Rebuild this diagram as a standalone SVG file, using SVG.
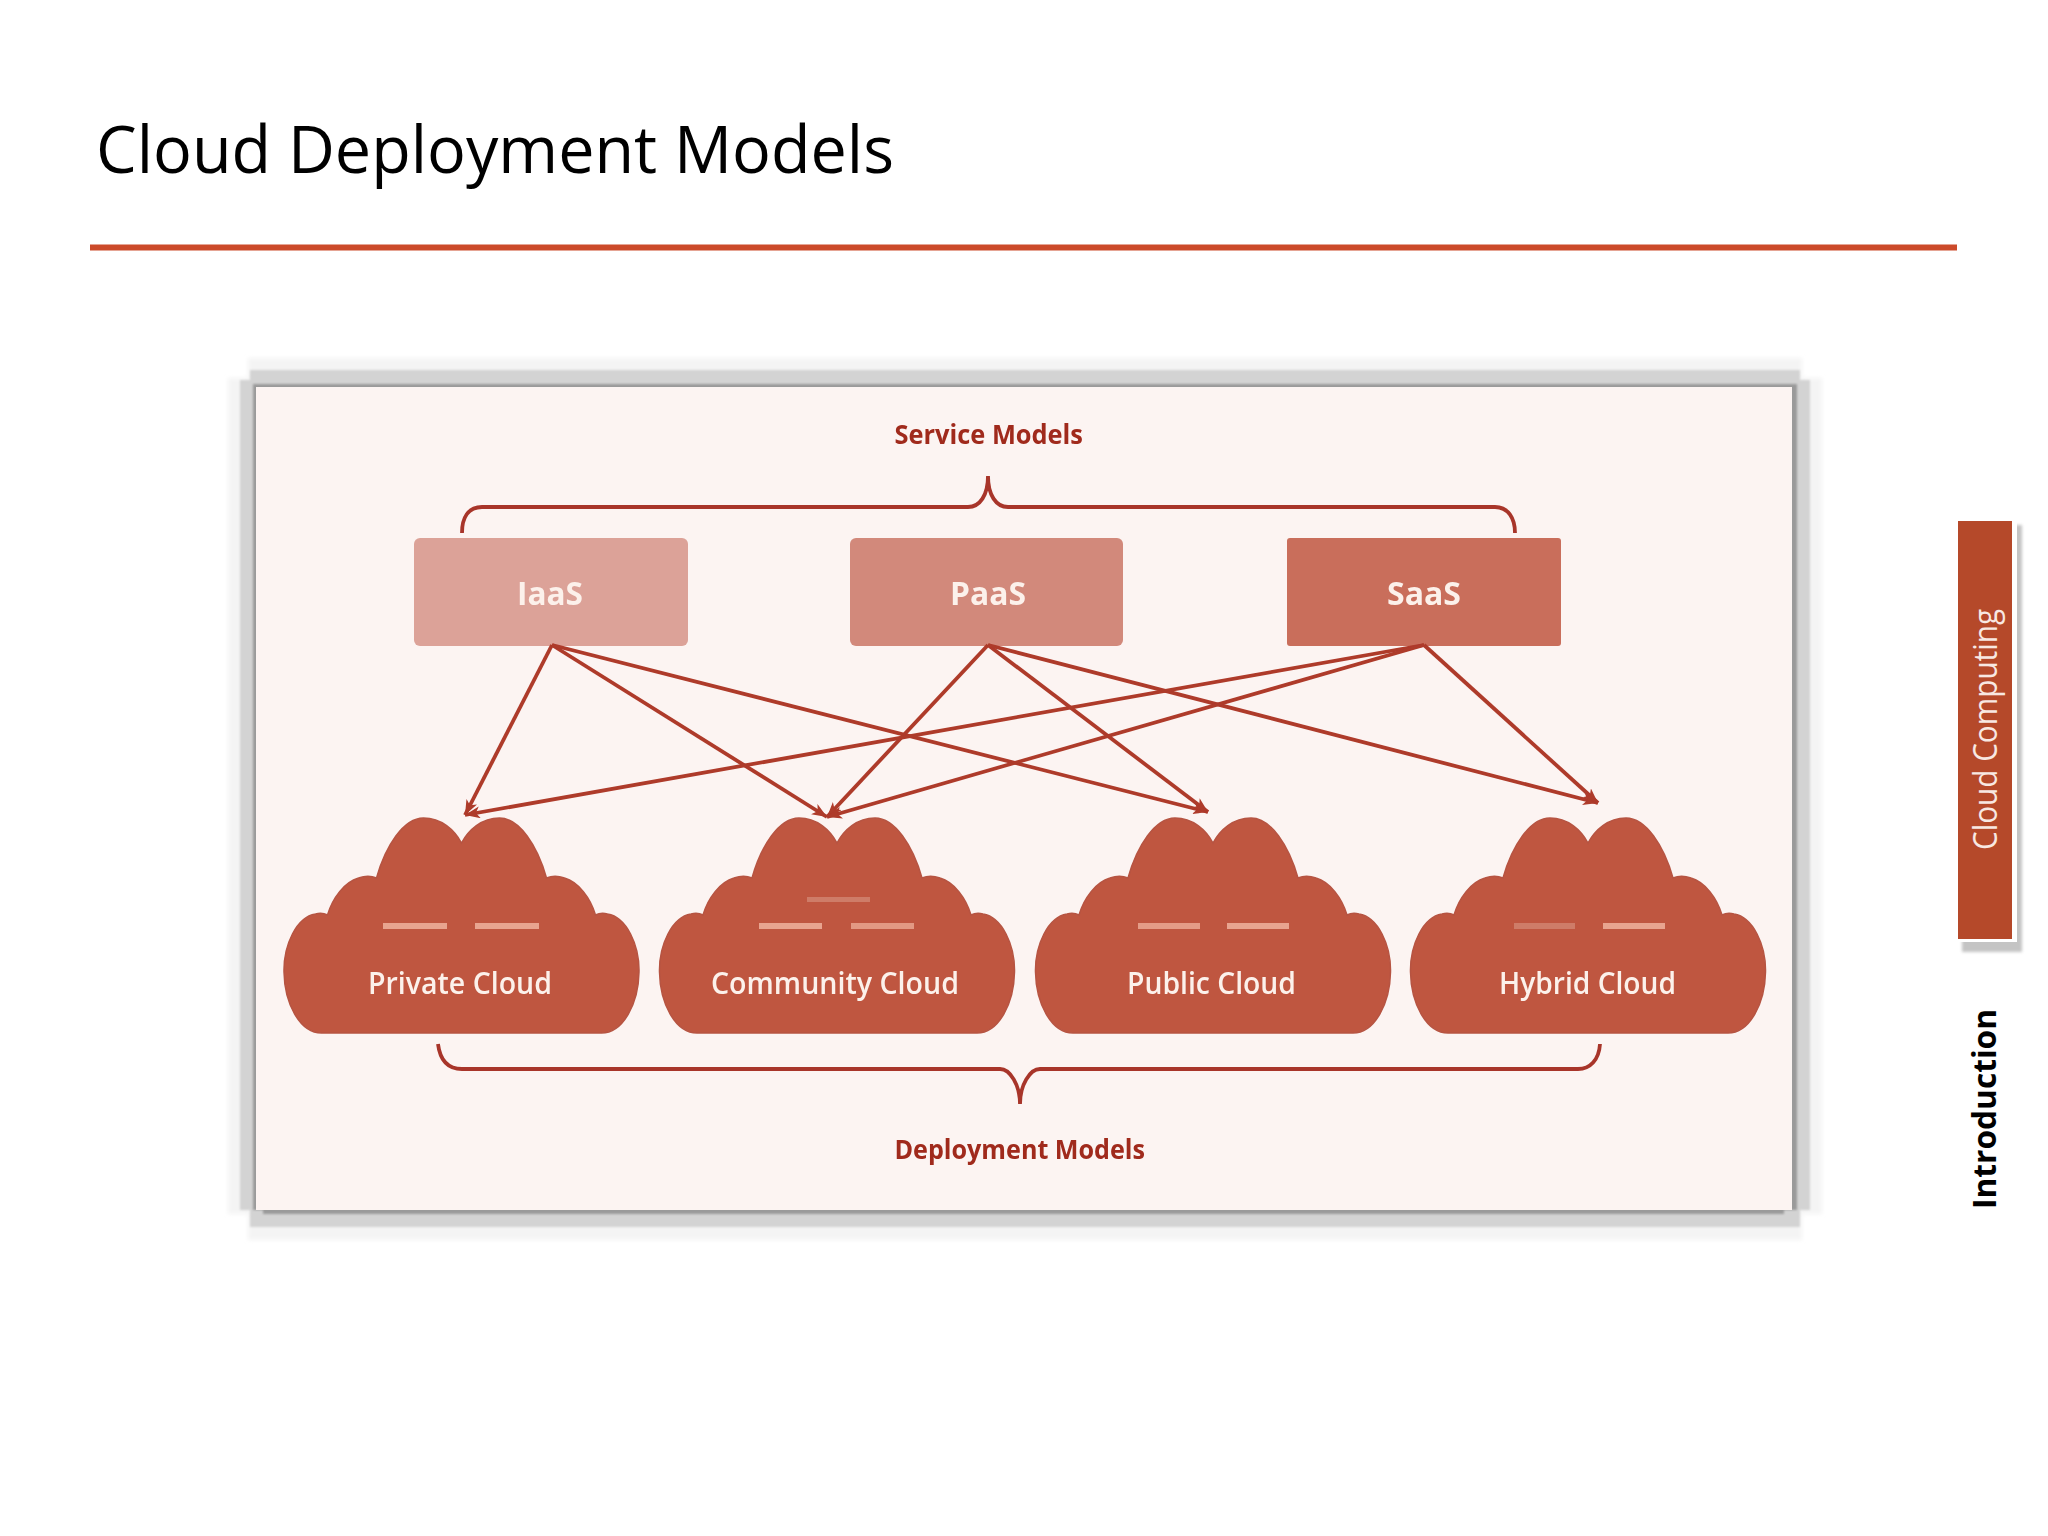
<svg xmlns="http://www.w3.org/2000/svg" xmlns:xlink="http://www.w3.org/1999/xlink" width="2048" height="1536" viewBox="0 0 2048 1536">
<style>
text{font-family:"Open Sans","Noto Sans","Liberation Sans",sans-serif}
.cloud{fill:#BF5640;stroke:#B65442;stroke-width:1.5}
.box{stroke:none}
.lbl{fill:#FCF1EB;font-weight:600}
.lblb{fill:#FCF1EB;font-weight:700}
.head{fill:#A02A1C;font-weight:700}
.cn{fill:none;stroke:#AE3A2A;stroke-width:3.8}
.brace{fill:none;stroke:#A8352A;stroke-width:3.8}
.bar{fill:#E8A48F}
.dim{fill:#CE7C68}
.soft{filter:url(#fine)}
.faint{fill:#F4F4F4}
.mid{fill:#D3D3D3}
</style>
<defs>
<filter id="fine" x="-5%" y="-5%" width="110%" height="110%"><feGaussianBlur stdDeviation="0.6"/></filter>
<filter id="soft" x="-5%" y="-5%" width="110%" height="110%"><feGaussianBlur stdDeviation="2"/></filter>
<filter id="soft1" x="-5%" y="-5%" width="110%" height="110%"><feGaussianBlur stdDeviation="0.8"/></filter>
<filter id="soft2" x="-50%" y="-5%" width="200%" height="110%"><feGaussianBlur stdDeviation="1.5"/></filter>
<marker id="ah" markerUnits="userSpaceOnUse" markerWidth="18" markerHeight="14" refX="15" refY="6" orient="auto"><path d="M0 0 L15 6 L0 12 L4 6 Z" fill="#AE3A2A"/></marker>
<path id="cloudShape" d="M0 843 C7 830 20 818 38 818 C58 818 76 846 85 878 C90 876 97 876 103 878 C117 882 129 898 134 915 C138 913 142 913 146 914 C165 917 178 945 177.5 972 C177 1003 162 1033 140 1033 L-140 1033 C-162 1033 -177 1003 -177.5 972 C-178 945 -165 917 -146 914 C-142 913 -138 913 -134 915 C-129 898 -117 882 -103 878 C-97 876 -90 876 -85 878 C-76 846 -58 818 -38 818 C-20 818 -7 830 0 843 Z"/>
</defs>
<rect width="2048" height="1536" fill="#FFFFFF"/>

<g id="title"><text x="96" y="172.5" font-size="66" textLength="798" lengthAdjust="spacingAndGlyphs" fill="#000">Cloud Deployment Models</text></g>
<rect id="title-rule" x="90" y="244.5" width="1867" height="6" fill="#CC4A2A"/>

<g id="panel">
<g filter="url(#soft)"><rect class="faint" x="248" y="358" width="1554" height="882"/><rect class="faint" x="228" y="378" width="1594" height="836"/></g>
<g filter="url(#soft1)"><rect class="mid" x="250" y="370" width="1550" height="857"/><rect class="mid" x="240" y="380" width="1570" height="830"/></g>
<g filter="url(#soft1)" fill="#9A9A9A"><rect x="253" y="384" width="1544" height="826"/><rect x="263" y="1200" width="1521" height="14"/></g>
<rect x="256" y="387" width="1536" height="823" fill="#FCF4F2"/>
</g>

<g id="service-models"><text class="head soft" x="894.5" y="444" font-size="26" textLength="188.5" lengthAdjust="spacingAndGlyphs">Service Models</text></g>
<g id="service-brace"><path class="brace soft" d="M462 533 C462 518 468 507 482 507 L968 507 C980 507 988 495 988 476 C988 495 996 507 1008 507 L1495 507 C1508 507 1515 518 1515 533"/></g>

<g id="iaas"><rect class="box" x="414" y="538" width="274" height="108" rx="6" fill="#DCA298"/><text class="lblb soft" x="517" y="605" font-size="33" textLength="66" lengthAdjust="spacingAndGlyphs">IaaS</text></g>
<g id="paas"><rect class="box" x="850" y="538" width="273" height="108" rx="6" fill="#D2897B"/><text class="lblb soft" x="950" y="605" font-size="33" textLength="76" lengthAdjust="spacingAndGlyphs">PaaS</text></g>
<g id="saas"><rect class="box" x="1287" y="538" width="274" height="108" rx="3" fill="#C96E5B"/><text class="lblb soft" x="1387" y="605" font-size="33" textLength="74" lengthAdjust="spacingAndGlyphs">SaaS</text></g>

<g id="connectors" class="soft">
<path class="cn" marker-end="url(#ah)" d="M552 645 L465 815"/>
<path class="cn" marker-end="url(#ah)" d="M552 645 L827 817"/>
<path class="cn" marker-end="url(#ah)" d="M552 645 L1208 812"/>
<path class="cn" marker-end="url(#ah)" d="M988 645 L827 817"/>
<path class="cn" marker-end="url(#ah)" d="M988 645 L1208 812"/>
<path class="cn" marker-end="url(#ah)" d="M988 645 L1598 803"/>
<path class="cn" marker-end="url(#ah)" d="M1424 645 L465 815"/>
<path class="cn" marker-end="url(#ah)" d="M1424 645 L827 817"/>
<path class="cn" marker-end="url(#ah)" d="M1424 645 L1598 803"/>
</g>

<g id="private-cloud"><use xlink:href="#cloudShape" href="#cloudShape" class="cloud" x="461.5"/><rect class="bar" x="383" y="923" width="64" height="6"/><rect class="bar" x="475" y="923" width="64" height="6"/><text class="lbl soft" x="368" y="994" font-size="30" textLength="184" lengthAdjust="spacingAndGlyphs">Private Cloud</text></g>
<g id="community-cloud"><use xlink:href="#cloudShape" href="#cloudShape" class="cloud" x="837"/><rect class="dim" x="807" y="897" width="63" height="5"/><rect class="bar" x="759" y="923" width="63" height="6"/><rect class="bar" x="851" y="923" width="63" height="6" opacity=".85"/><text class="lbl soft" x="711" y="994" font-size="30" textLength="248" lengthAdjust="spacingAndGlyphs">Community Cloud</text></g>
<g id="public-cloud"><use xlink:href="#cloudShape" href="#cloudShape" class="cloud" x="1213"/><rect class="bar" x="1138" y="923" width="62" height="6" opacity=".9"/><rect class="bar" x="1227" y="923" width="62" height="6"/><text class="lbl soft" x="1127" y="994" font-size="30" textLength="169" lengthAdjust="spacingAndGlyphs">Public Cloud</text></g>
<g id="hybrid-cloud"><use xlink:href="#cloudShape" href="#cloudShape" class="cloud" x="1588"/><rect class="dim" x="1514" y="923" width="61" height="6"/><rect class="bar" x="1603" y="923" width="62" height="6"/><text class="lbl soft" x="1499" y="994" font-size="30" textLength="177" lengthAdjust="spacingAndGlyphs">Hybrid Cloud</text></g>

<g id="deployment-brace"><path class="brace soft" d="M438 1044 C440 1060 448 1069 462 1069 L1000 1069 C1010 1069 1020 1085 1020 1104 C1020 1085 1030 1069 1040 1069 L1578 1069 C1590 1069 1599 1060 1600 1044"/></g>
<g id="deployment-models"><text class="head soft" x="894.5" y="1159" font-size="26" textLength="250.5" lengthAdjust="spacingAndGlyphs">Deployment Models</text></g>

<g id="tab-cloud-computing">
<rect x="1962" y="525" width="60" height="427" fill="#C4C4C4" filter="url(#soft2)"/>
<rect x="1956" y="519" width="61" height="423" fill="#FFFFFF"/>
<rect x="1958" y="521" width="54" height="418" fill="#B5492A"/>
<text x="1997" y="850" font-size="32" font-weight="400" fill="#F8E8E2" transform="rotate(-90 1997 850)" textLength="241" lengthAdjust="spacingAndGlyphs">Cloud Computing</text>
</g>
<g id="tab-introduction"><text x="1996" y="1209" font-size="32" font-weight="700" fill="#000" transform="rotate(-90 1996 1209)" textLength="200" lengthAdjust="spacingAndGlyphs">Introduction</text></g>
</svg>
